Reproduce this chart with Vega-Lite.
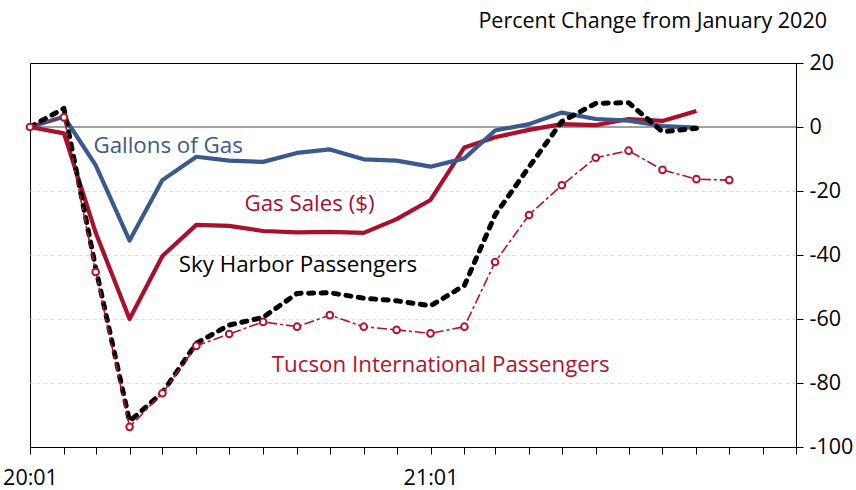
{
  "$schema": "https://vega.github.io/schema/vega-lite/v6.json",
  "width": 766,
  "height": 384,
  "autosize": {"type": "none"},
  "padding": {"left": 30, "top": 63, "right": 60, "bottom": 43},
  "background": "white",
  "config": {
    "font": "Open Sans",
    "view": {"stroke": "black", "strokeWidth": 1}
  },
  "title": {
    "text": "Percent Change from January 2020",
    "anchor": "end",
    "frame": "group",
    "orient": "top",
    "baseline": "alphabetic",
    "offset": 3,
    "dx": 31,
    "fontSize": 21.5,
    "fontWeight": "normal",
    "font": "Open Sans",
    "color": "black"
  },
  "datasets": {
    "zero": [
      {"date": "2020-01-01", "v": 0},
      {"date": "2021-12-01", "v": 0}
    ],
    "gallons": [
      {"date": "2020-01-01", "v": 0},
      {"date": "2020-02-01", "v": 3.2},
      {"date": "2020-03-01", "v": -11.9},
      {"date": "2020-04-01", "v": -35.5},
      {"date": "2020-05-01", "v": -16.6},
      {"date": "2020-06-01", "v": -9.3},
      {"date": "2020-07-01", "v": -10.5},
      {"date": "2020-08-01", "v": -10.9},
      {"date": "2020-09-01", "v": -8.1},
      {"date": "2020-10-01", "v": -7.0},
      {"date": "2020-11-01", "v": -10.1},
      {"date": "2020-12-01", "v": -10.5},
      {"date": "2021-01-01", "v": -12.4},
      {"date": "2021-02-01", "v": -9.8},
      {"date": "2021-03-01", "v": -1.1},
      {"date": "2021-04-01", "v": 0.9},
      {"date": "2021-05-01", "v": 4.5},
      {"date": "2021-06-01", "v": 2.5},
      {"date": "2021-07-01", "v": 2.0},
      {"date": "2021-08-01", "v": 0.3},
      {"date": "2021-09-01", "v": -0.2}
    ],
    "sales": [
      {"date": "2020-01-01", "v": 0},
      {"date": "2020-02-01", "v": -2.0},
      {"date": "2020-03-01", "v": -33.0},
      {"date": "2020-04-01", "v": -60.0},
      {"date": "2020-05-01", "v": -40.3},
      {"date": "2020-06-01", "v": -30.6},
      {"date": "2020-07-01", "v": -30.9},
      {"date": "2020-08-01", "v": -32.5},
      {"date": "2020-09-01", "v": -32.9},
      {"date": "2020-10-01", "v": -32.8},
      {"date": "2020-11-01", "v": -33.1},
      {"date": "2020-12-01", "v": -28.8},
      {"date": "2021-01-01", "v": -22.8},
      {"date": "2021-02-01", "v": -6.4},
      {"date": "2021-03-01", "v": -3.2},
      {"date": "2021-04-01", "v": -0.9},
      {"date": "2021-05-01", "v": 0.9},
      {"date": "2021-06-01", "v": 0.6},
      {"date": "2021-07-01", "v": 2.5},
      {"date": "2021-08-01", "v": 1.9},
      {"date": "2021-09-01", "v": 5.0}
    ],
    "sky": [
      {"date": "2020-01-01", "v": 0},
      {"date": "2020-02-01", "v": 5.8},
      {"date": "2020-03-01", "v": -44.0},
      {"date": "2020-04-01", "v": -92.0},
      {"date": "2020-05-01", "v": -83.0},
      {"date": "2020-06-01", "v": -67.6},
      {"date": "2020-07-01", "v": -61.9},
      {"date": "2020-08-01", "v": -59.5},
      {"date": "2020-09-01", "v": -52.0},
      {"date": "2020-10-01", "v": -51.8},
      {"date": "2020-11-01", "v": -53.5},
      {"date": "2020-12-01", "v": -54.3},
      {"date": "2021-01-01", "v": -55.9},
      {"date": "2021-02-01", "v": -49.5},
      {"date": "2021-03-01", "v": -27.5},
      {"date": "2021-04-01", "v": -12.5},
      {"date": "2021-05-01", "v": 1.7},
      {"date": "2021-06-01", "v": 7.4},
      {"date": "2021-07-01", "v": 7.6},
      {"date": "2021-08-01", "v": -1.5},
      {"date": "2021-09-01", "v": -0.4}
    ],
    "tucson": [
      {"date": "2020-01-01", "v": 0},
      {"date": "2020-02-01", "v": 3.0},
      {"date": "2020-03-01", "v": -45.3},
      {"date": "2020-04-01", "v": -93.7},
      {"date": "2020-05-01", "v": -83.2},
      {"date": "2020-06-01", "v": -68.4},
      {"date": "2020-07-01", "v": -64.7},
      {"date": "2020-08-01", "v": -60.9},
      {"date": "2020-09-01", "v": -62.4},
      {"date": "2020-10-01", "v": -58.8},
      {"date": "2020-11-01", "v": -62.4},
      {"date": "2020-12-01", "v": -63.4},
      {"date": "2021-01-01", "v": -64.5},
      {"date": "2021-02-01", "v": -62.4},
      {"date": "2021-03-01", "v": -42.2},
      {"date": "2021-04-01", "v": -27.5},
      {"date": "2021-05-01", "v": -18.2},
      {"date": "2021-06-01", "v": -9.6},
      {"date": "2021-07-01", "v": -7.4},
      {"date": "2021-08-01", "v": -13.4},
      {"date": "2021-09-01", "v": -16.3},
      {"date": "2021-10-01", "v": -16.6}
    ],
    "labels": [
      {"date": "2020-02-28", "v": -8.0, "label": "Gallons of Gas", "series": "gallons"},
      {"date": "2020-07-15", "v": -26.1, "label": "Gas Sales ($)", "series": "sales"},
      {"date": "2020-05-16", "v": -45.2, "label": "Sky Harbor Passengers", "series": "sky"},
      {"date": "2020-08-09", "v": -76.5, "label": "Tucson International Passengers", "series": "tucson"}
    ]
  },
  "encoding": {
    "x": {
      "field": "date",
      "type": "temporal",
      "scale": {
        "type": "utc",
        "domain": [
          {"year": 2020, "month": 1, "date": 1, "utc": true},
          {"year": 2021, "month": 12, "date": 1, "utc": true}
        ]
      },
      "axis": {
        "title": null,
        "grid": false,
        "tickCount": {"interval": "month", "step": 1},
        "labelExpr": "utcmonth(datum.value) == 0 ? utcFormat(datum.value, '%y:%m') : ''",
        "labelFont": "Open Sans",
        "labelFontSize": 21.5,
        "labelColor": "black",
        "labelPadding": 13,
        "labelOverlap": false,
        "labelFlush": false,
        "tickSize": 7,
        "tickColor": "black",
        "domainColor": "black"
      }
    },
    "y": {
      "field": "v",
      "type": "quantitative",
      "scale": {"domain": [-100, 20], "nice": false, "zero": false},
      "axis": {
        "title": null,
        "orient": "right",
        "values": [-100, -80, -60, -40, -20, 0, 20],
        "labelExpr": "toString(datum.value)",
        "labelFont": "Open Sans",
        "labelFontSize": 21.5,
        "labelColor": "black",
        "labelPadding": 6,
        "labelOverlap": false,
        "labelFlush": false,
        "tickSize": 7,
        "tickColor": "black",
        "domainColor": "black",
        "grid": true,
        "gridColor": "#dcdcdc",
        "gridDash": [4, 3],
        "gridWidth": 1,
        "gridOpacity": {
          "condition": {"test": "datum.value == 20 || datum.value == -100 || datum.value == 0", "value": 0},
          "value": 1
        }
      }
    }
  },
  "layer": [
    {
      "data": {"name": "zero"},
      "mark": {"type": "line", "color": "#404040", "strokeWidth": 1}
    },
    {
      "data": {"name": "sales"},
      "mark": {"type": "line", "color": "#A8102D", "strokeWidth": 4.2, "strokeJoin": "round"}
    },
    {
      "data": {"name": "gallons"},
      "mark": {"type": "line", "color": "#3B5A8B", "strokeWidth": 4.2, "strokeJoin": "round"}
    },
    {
      "data": {"name": "sky"},
      "mark": {"type": "line", "color": "black", "strokeWidth": 5, "strokeDash": [5, 7.5], "strokeCap": "round", "strokeJoin": "round"}
    },
    {
      "data": {"name": "tucson"},
      "mark": {"type": "line", "color": "#B3132F", "strokeWidth": 1.6, "strokeDash": [10, 3, 3, 3]}
    },
    {
      "data": {"name": "tucson"},
      "mark": {"type": "point", "shape": "circle", "filled": true, "fill": "white", "stroke": "#B3132F", "strokeWidth": 2, "size": 44, "opacity": 1}
    },
    {
      "data": {"name": "labels"},
      "mark": {"type": "text", "align": "left", "baseline": "alphabetic", "font": "Open Sans", "fontSize": 22.3},
      "encoding": {
        "text": {"field": "label"},
        "color": {
          "field": "series",
          "type": "nominal",
          "scale": {"domain": ["gallons", "sales", "sky", "tucson"], "range": ["#3B5A8B", "#A8102D", "black", "#B3132F"]},
          "legend": null
        }
      }
    }
  ]
}
